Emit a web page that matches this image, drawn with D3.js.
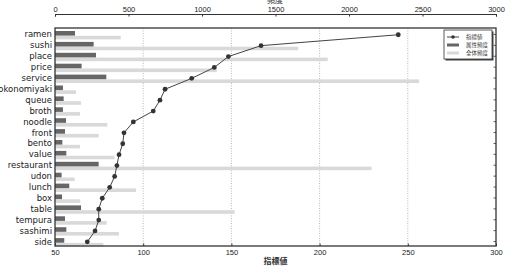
<!DOCTYPE html>
<html><head><meta charset="utf-8">
<script src="https://cdn.jsdelivr.net/npm/d3@7"></script>
<style>body{margin:0;background:#fff}svg{display:block}</style>
</head><body>
<script>
const categories = ["ramen","sushi","place","price","service","okonomiyaki","queue","broth","noodle","front","bento","value","restaurant","udon","lunch","box","table","tempura","sashimi","side"];
const indexValues = [244.6,166.8,148.3,140.3,127.5,112.4,109.5,105.7,94.4,89.1,88.4,86.3,85.1,83.8,81.0,76.8,74.8,74.8,72.7,68.3];
const attrFreq = [136,263,279,181,349,54,59,54,75,68,50,77,297,45,97,48,177,68,77,63];
const totalFreq = [447,1655,1855,1100,2476,143,177,170,356,297,170,404,2154,134,551,172,1222,352,435,329];
const indexTicks = [50,100,150,200,250,300];
const freqTicks = [0,500,1000,1500,2000,2500,3000];
const legendLabels = ["指標値","属性頻度","全体頻度"];
const topTitle = "頻度";
const bottomTitle = "指標値";

const W=507,H=272, L=55, R=496, T=28, B=246;
const svg=d3.select("body").append("svg").attr("width",W).attr("height",H);
const y=d3.scaleBand().domain(categories).range([29,247]);
const xI=d3.scaleLinear().domain([50,300]).range([L,R]);
const xF=d3.scaleLinear().domain([0,3000]).range([L,R]);
const fontT="'Liberation Sans',Arial,sans-serif";

// grid
svg.append("g").selectAll("line").data(indexTicks.slice(1,-1)).join("line")
 .attr("x1",d=>xI(d)).attr("x2",d=>xI(d)).attr("y1",T).attr("y2",B)
 .attr("stroke","#999").attr("stroke-width",0.7).attr("stroke-dasharray","1,1.5");

// bars
const rows=categories.map((c,i)=>({c,iv:indexValues[i],a:attrFreq[i],t:totalFreq[i]}));
svg.append("g").selectAll("rect").data(rows).join("rect")
 .attr("x",xF(0)).attr("y",d=>y(d.c)+6.8).attr("width",d=>xF(d.t)-xF(0)).attr("height",3.6)
 .attr("fill","#d9d9d9");
svg.append("g").selectAll("rect").data(rows).join("rect")
 .attr("x",xF(0)).attr("y",d=>y(d.c)+2).attr("width",d=>xF(d.a)-xF(0)).attr("height",4.6)
 .attr("fill","#666");

// line
const cy=d=>y(d.c)+y.bandwidth()/2+0.3;
svg.append("path").datum(rows).attr("fill","none").attr("stroke","#444").attr("stroke-width",1)
 .attr("d",d3.line().x(d=>xI(d.iv)).y(cy));
svg.append("g").selectAll("circle").data(rows).join("circle")
 .attr("cx",d=>xI(d.iv)).attr("cy",cy).attr("r",2.4).attr("fill","#333");

// frame
svg.append("rect").attr("x",L).attr("y",T).attr("width",R-L).attr("height",B-T)
 .attr("fill","none").attr("stroke","#333").attr("stroke-width",1.3);
// right inner ticks
svg.append("g").selectAll("line").data(categories).join("line")
 .attr("x1",R).attr("x2",R-2.5).attr("y1",d=>y(d)+y.bandwidth()/2).attr("y2",d=>y(d)+y.bandwidth()/2)
 .attr("stroke","#333").attr("stroke-width",0.8);

// category labels
svg.append("g").selectAll("text").data(categories).join("text")
 .attr("x",52).attr("y",d=>y(d)+y.bandwidth()/2).attr("dy","0.35em")
 .attr("text-anchor","end").attr("font-family","'DejaVu Sans',sans-serif").attr("font-size",8.5)
 .attr("fill","#222").text(d=>d);

// bottom axis
const bAx=d3.axisBottom(xI).tickValues(indexTicks).tickFormat(d3.format("d")).tickSize(-2.5).tickPadding(4);
const bg=svg.append("g").attr("transform",`translate(0,${B})`).call(bAx);
bg.select(".domain").remove();
bg.selectAll("text").attr("font-family",fontT).attr("font-size",7.5).attr("fill","#222");
bg.selectAll("line").attr("stroke","#333");
svg.append("text").attr("x",275.5).attr("y",264).attr("text-anchor","middle")
 .attr("font-family","'Noto Sans CJK JP',sans-serif").attr("font-size",8).attr("font-weight","bold").attr("fill","#333").text(bottomTitle);

// top axis
const tAx=d3.axisTop(xF).tickValues(freqTicks).tickFormat(d3.format("d")).tickSize(-2.5).tickPadding(2);
const tg=svg.append("g").attr("transform","translate(0,14)").call(tAx);
tg.select(".domain").attr("stroke","#333").attr("stroke-width",1);
tg.selectAll("text").attr("font-family",fontT).attr("font-size",7.5).attr("fill","#222");
tg.selectAll("line").attr("stroke","#333");
svg.append("text").attr("x",275).attr("y",3).attr("text-anchor","middle")
 .attr("font-family","'Noto Sans CJK JP',sans-serif").attr("font-size",8).attr("fill","#333").text(topTitle);

// legend
const lg=svg.append("g");
lg.append("rect").attr("x",445.5).attr("y",31.5).attr("width",48).attr("height",29).attr("fill","#444");
lg.append("rect").attr("x",444).attr("y",30).attr("width",48).attr("height",29).attr("fill","#fff").attr("stroke","#333").attr("stroke-width",0.8);
const ly=[37,45,53];
lg.append("line").attr("x1",447).attr("x2",459).attr("y1",ly[0]).attr("y2",ly[0]).attr("stroke","#444");
lg.append("circle").attr("cx",453).attr("cy",ly[0]).attr("r",1.8).attr("fill","#333");
lg.append("rect").attr("x",447).attr("y",ly[1]-1.5).attr("width",12).attr("height",3).attr("fill","#666");
lg.append("rect").attr("x",447).attr("y",ly[2]-1.5).attr("width",12).attr("height",3).attr("fill","#d9d9d9");
lg.selectAll("text.l").data(legendLabels).join("text").attr("class","l")
 .attr("x",466).attr("y",(d,i)=>ly[i]).attr("dy","0.35em")
 .attr("font-family","'Noto Sans CJK JP',sans-serif").attr("font-size",5.5).attr("fill","#333").text(d=>d);
</script>
</body></html>
